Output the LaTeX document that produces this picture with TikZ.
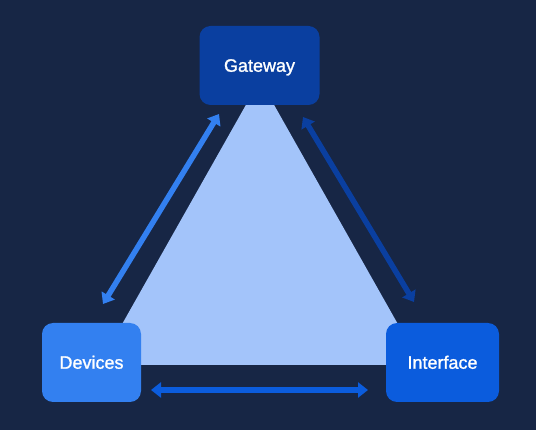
\documentclass[tikz,border=0pt]{standalone}
\usepackage{fontspec}
\setmainfont{Liberation Sans}
\newfontfamily\medfont[FakeBold=1.3]{Liberation Sans}
\usetikzlibrary{arrows.meta}
\definecolor{bg}{HTML}{172645}
\definecolor{gatec}{HTML}{0A3FA0}
\definecolor{devc}{HTML}{3380F0}
\definecolor{intc}{HTML}{0B5CDD}
\definecolor{tri}{HTML}{A3C4FA}
\tikzset{
  box/.style={rounded corners=11pt, minimum height=79pt, text=white, font=\medfont\fontsize{18}{20}\selectfont, inner sep=0pt, text height=12.5pt, text depth=0pt},
  link/.style={line width=5.5pt, {Triangle[length=10pt,width=15pt]}-{Triangle[length=10pt,width=15pt]}}
}
\begin{document}
\begin{tikzpicture}[x=1pt,y=-1pt]
\fill[bg] (0,0) rectangle (536,430);
\useasboundingbox (0,0) rectangle (536,430);
\coordinate (apex) at (260,80);
\coordinate (bl) at (99,365);
\coordinate (br) at (421,365);
\fill[tri] (apex) -- (bl) -- (br) -- cycle;
\node[box, fill=gatec, minimum width=120pt] (gw) at (259.5,65.5) {Gateway};
\node[box, fill=devc, minimum width=99pt] (dev) at (91.5,362.5) {Devices};
\node[box, fill=intc, minimum width=113pt] (int) at (442.5,362.5) {Interface};
\coordinate (l1) at (103,304);
\coordinate (l2) at (219,114);
\coordinate (r1) at (303,117);
\coordinate (r2) at (414,302);
\coordinate (b1) at (151,390);
\coordinate (b2) at (368,390);
\draw[link, devc] (l1) -- (l2);
\draw[link, gatec] (r1) -- (r2);
\draw[link, intc] (b1) -- (b2);
\end{tikzpicture}
\end{document}
